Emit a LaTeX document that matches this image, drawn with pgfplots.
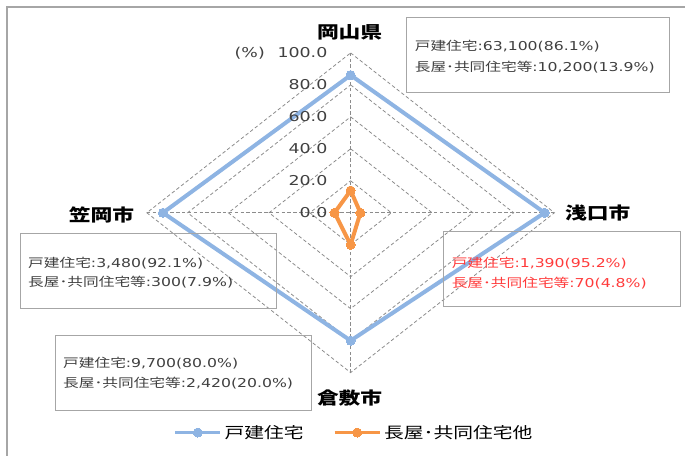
\documentclass[border=0pt]{standalone}
\usepackage{fontspec}
\usepackage{graphicx}
\usepackage{pgfplots}
\pgfplotsset{compat=1.18}
\setmainfont{DejaVu Sans}
\newfontfamily\cjk{Noto Sans CJK JP}
\definecolor{bl}{HTML}{8EB4E3}
\definecolor{orr}{HTML}{F79646}
\definecolor{gridc}{HTML}{8C8C8C}
\definecolor{boxc}{HTML}{A6A6A6}
\definecolor{txt}{HTML}{404040}
\definecolor{redt}{HTML}{FF3B3B}
\newcommand{\hs}[1]{\scalebox{1.28}[1]{#1}}
\tikzset{ticklab/.style={anchor=east, inner sep=0pt, text=txt, font=\fontsize{10.2}{12}\selectfont},
  catlab/.style={inner sep=0pt, font=\fontsize{12.75}{14}\selectfont\cjk\bfseries},
  bt/.style={anchor=west, inner sep=0pt, text=txt, font=\fontsize{9.2}{10}\selectfont}}
\pgfplotsset{gridline/.style={forget plot, gridc, line width=0.6pt, dash pattern=on 2.6pt off 1.8pt}}
\begin{document}
\begin{tikzpicture}
\begin{axis}[
  scale only axis, width=514.5pt, height=342pt,
  xmin=-172.06, xmax=164.22, ymin=-151.875, ymax=133.125,
  axis lines=none, xtick=\empty, ytick=\empty, clip=false,
  legend columns=2,
  legend style={at={(rel axis cs:0.517,0.0504)}, anchor=center, draw=none, fill=none,
    font=\fontsize{11.6}{13}\selectfont, inner sep=0pt,
    /tikz/every even column/.append style={column sep=20pt}},
  legend image code/.code={\draw[mark repeat=2, mark phase=2, #1, line width=2.4pt]
     plot coordinates {(0pt,0pt) (17pt,0pt) (34pt,0pt)};},
]
\path (rel axis cs:0,0) rectangle (rel axis cs:1,1);
\coordinate (TL) at (rel axis cs:0,1);
% grid
\addplot[gridline] coordinates {(0,20)(20,0)(0,-20)(-20,0)(0,20)};
\addplot[gridline] coordinates {(0,40)(40,0)(0,-40)(-40,0)(0,40)};
\addplot[gridline] coordinates {(0,60)(60,0)(0,-60)(-60,0)(0,60)};
\addplot[gridline] coordinates {(0,80)(80,0)(0,-80)(-80,0)(0,80)};
\addplot[gridline] coordinates {(0,100)(100,0)(0,-100)(-100,0)(0,100)};
\addplot[gridline] coordinates {(0,-100)(0,100)};
\addplot[gridline] coordinates {(-100,0)(100,0)};
% series: top = 岡山県, right = 浅口市, bottom = 倉敷市, left = 笠岡市
\addplot[bl, line width=3pt, line join=round, mark=*, mark size=3.4pt,
  mark options={solid, fill=bl, draw=bl, line width=0pt}]
  coordinates {(0,86.1)(95.2,0)(0,-80.0)(-92.1,0)(0,86.1)};
\addlegendentry{\hs{\cjk 戸建住宅}}
\addplot[orr, line width=3pt, line join=round, mark=*, mark size=3.4pt,
  mark options={solid, fill=orr, draw=orr, line width=0pt}]
  coordinates {(0,13.9)(4.8,0)(0,-20.0)(-7.9,0)(0,13.9)};
\addlegendentry{\hs{\cjk 長屋･共同住宅他}}
% tick labels
\node[ticklab] at (axis cs:-11.3,100) {\hs{100.0}};
\node[ticklab] at (axis cs:-11.3,80) {\hs{80.0}};
\node[ticklab] at (axis cs:-11.3,60) {\hs{60.0}};
\node[ticklab] at (axis cs:-11.3,40) {\hs{40.0}};
\node[ticklab] at (axis cs:-11.3,20) {\hs{20.0}};
\node[ticklab] at (axis cs:-11.3,0) {\hs{0.0}};
\node[inner sep=0pt, text=txt, font=\fontsize{10.2}{12}\selectfont] at (axis cs:-49.5,100) {\hs{(\%)}};
% category labels
\node[catlab] at (axis cs:-0.5,113.1) {\hs{岡山県}};
\node[catlab] at (axis cs:121.3,0) {\hs{浅口市}};
\node[catlab] at (axis cs:-0.5,-115.6) {\hs{倉敷市}};
\node[catlab] at (axis cs:-122.3,-1.25) {\hs{笠岡市}};
\end{axis}
\begin{scope}[shift={(TL)}, x=0.75pt, y=-0.75pt]
\draw[boxc, line width=1.1pt] (7,456) -- (7,7) -- (686,7);
% 岡山県
\draw[boxc, line width=0.75pt] (407,18) rectangle (670,93);
\node[bt] at (415,46) {\hs{{\cjk 戸建住宅}:63,100(86.1\%)}};
\node[bt] at (415,67) {\hs{{\cjk 長屋･共同住宅等}:10,200(13.9\%)}};
% 浅口市
\draw[boxc, line width=0.75pt] (444,232) rectangle (681,307);
\node[bt, text=redt] at (452,263) {\hs{{\cjk 戸建住宅}:1,390(95.2\%)}};
\node[bt, text=redt] at (452,283) {\hs{{\cjk 長屋･共同住宅等}:70(4.8\%)}};
% 笠岡市
\draw[boxc, line width=0.75pt] (21,234) rectangle (277,309);
\node[bt] at (28,263) {\hs{{\cjk 戸建住宅}:3,480(92.1\%)}};
\node[bt] at (28,282) {\hs{{\cjk 長屋･共同住宅等}:300(7.9\%)}};
% 倉敷市
\draw[boxc, line width=0.75pt] (56,336) rectangle (312,411);
\node[bt] at (63,364) {\hs{{\cjk 戸建住宅}:9,700(80.0\%)}};
\node[bt] at (63,384) {\hs{{\cjk 長屋･共同住宅等}:2,420(20.0\%)}};
\end{scope}
\end{tikzpicture}
\end{document}
